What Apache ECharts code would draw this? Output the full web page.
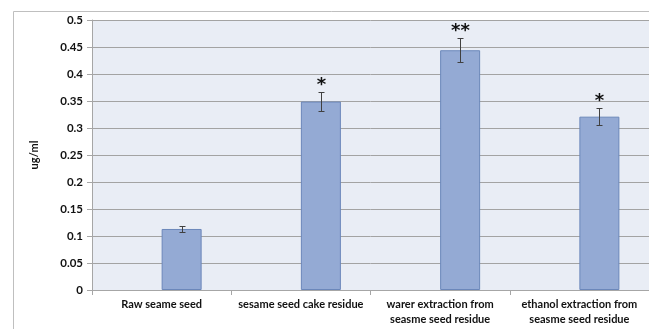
<!DOCTYPE html>
<html>
<head>
<meta charset="utf-8">
<script src="https://cdn.jsdelivr.net/npm/echarts@6/dist/echarts.min.js"></script>
<style>
  html, body { margin: 0; padding: 0; background: #ffffff; }
  #chart { width: 649px; height: 329px; }
</style>
</head>
<body>
<div id="chart"></div>
<script>
// Sample categories and measured concentrations
var categories = [
  'Raw seame seed',
  'sesame seed cake residue',
  'warer extraction from\nseasme seed residue',
  'ethanol extraction from\nseasme seed residue'
];
var values = [0.113, 0.349, 0.444, 0.321];
var errors = [0.006, 0.017, 0.022, 0.016];
var marks = ['', '*', '**', '*'];
var yTicks = [0, 0.05, 0.1, 0.15, 0.2, 0.25, 0.3, 0.35, 0.4, 0.45, 0.5];

var FONT = 'Lato, "Open Sans", sans-serif';
var BAR_W = 40;

var chart = echarts.init(document.getElementById('chart'), null, { renderer: 'canvas' });

var errData = values.map(function (v, i) { return [i, v, errors[i]]; });

chart.setOption({
  animation: false,
  graphic: [{
    type: 'rect',
    left: 11, top: 9,
    shape: { x: 0, y: 0, width: 700, height: 400 },
    style: { fill: 'none', stroke: '#bfbfbf', lineWidth: 1 },
    silent: true,
    z: -1
  }],
  grid: {
    left: 92, top: 20, right: -3, bottom: 39,
    show: true,
    backgroundColor: '#e9edf5',
    borderWidth: 0
  },
  xAxis: {
    type: 'category',
    data: categories,
    axisLine: { show: true, lineStyle: { color: '#a6a6a6', width: 1 } },
    axisTick: { show: true, length: 5, alignWithLabel: false, lineStyle: { color: '#a6a6a6' } },
    axisLabel: {
      interval: 0,
      margin: 7,
      color: '#111111',
      fontFamily: FONT,
      fontWeight: 'bold',
      fontSize: 11,
      lineHeight: 15
    },
    splitLine: { show: false }
  },
  yAxis: {
    type: 'value',
    min: 0, max: 0.5, interval: 0.05,
    name: 'ug/ml',
    nameLocation: 'middle',
    nameRotate: 90,
    nameGap: 52,
    nameTextStyle: { color: '#111111', fontFamily: FONT, fontWeight: 'bold', fontSize: 11 },
    axisLine: { show: true, lineStyle: { color: '#a6a6a6', width: 1 } },
    axisTick: { show: true, length: 5, lineStyle: { color: '#a6a6a6' } },
    axisLabel: {
      margin: 9,
      color: '#111111',
      fontFamily: FONT,
      fontWeight: 'bold',
      fontSize: 11.5,
      formatter: function (v) {
        var r = Math.round(v * 100) / 100;
        return yTicks.indexOf(r) >= 0 ? String(r) : '';
      }
    },
    splitLine: { show: true, lineStyle: { color: '#a3a3a3', width: 1 } }
  },
  series: [
    {
      // empty companion series keeps the plotted bars in the right half of each slot
      type: 'bar',
      data: values.map(function () { return null; }),
      barWidth: BAR_W,
      barGap: '0%',
      silent: true
    },
    {
      type: 'bar',
      data: values,
      barWidth: BAR_W,
      barGap: '0%',
      itemStyle: { color: '#94aad4', borderColor: '#6b87ba', borderWidth: 1 }
    },
    {
      type: 'custom',
      data: errData,
      z: 10,
      renderItem: function (params, api) {
        var i = api.value(0);
        var v = api.value(1);
        var e = api.value(2);
        var mark = marks[i];
        var top = api.coord([i, v + e]);
        var bot = api.coord([i, v - e]);
        var x = Math.round(top[0] + BAR_W / 2) + 0.5;
        var yt = Math.round(top[1]) + 0.5;
        var yb = Math.round(bot[1]) + 0.5;
        var cap = 3;
        var style = { stroke: '#404040', lineWidth: 1 };
        var children = [
          { type: 'line', shape: { x1: x, y1: yt, x2: x, y2: yb }, style: style },
          { type: 'line', shape: { x1: x - cap, y1: yt, x2: x + cap, y2: yt }, style: style },
          { type: 'line', shape: { x1: x - cap, y1: yb, x2: x + cap, y2: yb }, style: style }
        ];
        if (mark) {
          children.push({
            type: 'text',
            style: {
              text: mark,
              x: x,
              y: yt + 2,
              align: 'center',
              verticalAlign: 'bottom',
              fill: '#111111',
              font: 'bold 18px "DejaVu Sans", sans-serif'
            }
          });
        }
        return { type: 'group', children: children };
      }
    }
  ]
});
</script>
</body>
</html>
